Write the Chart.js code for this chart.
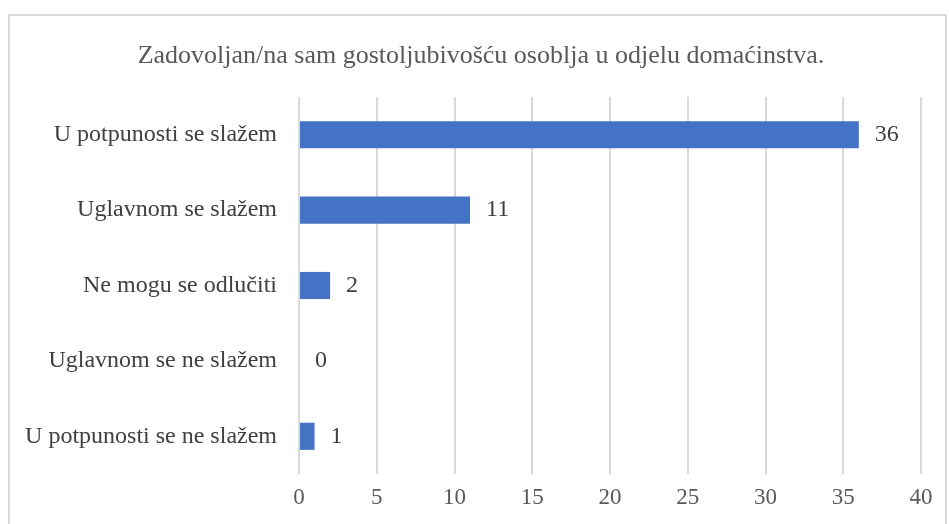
<!DOCTYPE html>
<html>
<head>
<meta charset="utf-8">
<script src="https://cdn.jsdelivr.net/npm/chart.js@4/dist/chart.umd.min.js"></script>
<style>
  html, body { margin:0; padding:0; background:#fff; width:949px; height:524px; overflow:hidden; }
  #frame { position:absolute; left:8px; top:14px; width:939px; height:530px; border:2px solid #d9d9d9; box-sizing:border-box; }
  #wrap { position:absolute; left:0; top:0; width:949px; height:524px; }
</style>
</head>
<body>
<div id="frame"></div>
<div id="wrap"><canvas id="c" width="949" height="524"></canvas></div>
<script>
const chartTitle = "Zadovoljan/na sam gostoljubivošću osoblja u odjelu domaćinstva.";
const categories = ["U potpunosti se slažem", "Uglavnom se slažem", "Ne mogu se odlučiti", "Uglavnom se ne slažem", "U potpunosti se ne slažem"];
const counts = [36, 11, 2, 0, 1];
const xTicks = [0, 5, 10, 15, 20, 25, 30, 35, 40];

const FONT = "'Liberation Serif', 'Times New Roman', serif";

const valueLabels = {
  id: 'valueLabels',
  afterDatasetsDraw(chart) {
    const ctx = chart.ctx;
    const meta = chart.getDatasetMeta(0);
    ctx.save();
    ctx.font = "24px " + FONT;
    ctx.fillStyle = "#404040";
    ctx.textAlign = "left";
    ctx.textBaseline = "middle";
    meta.data.forEach((bar, i) => {
      ctx.fillText(String(counts[i]), bar.x + 16, bar.y);
    });
    ctx.restore();
  }
};

const frameTitle = {
  id: 'frameTitle',
  afterDraw(chart) {
    const ctx = chart.ctx;
    ctx.save();
    ctx.font = "26px " + FONT;
    ctx.fillStyle = "#595959";
    ctx.textAlign = "center";
    ctx.textBaseline = "middle";
    ctx.fillText(chartTitle, 481, 56);
    ctx.restore();
  }
};

new Chart(document.getElementById('c'), {
  type: 'bar',
  data: {
    labels: categories,
    datasets: [{
      data: counts,
      backgroundColor: '#4472C4',
      borderWidth: 0,
      barPercentage: 0.36,
      categoryPercentage: 1.0
    }]
  },
  options: {
    indexAxis: 'y',
    responsive: false,
    animation: false,
    devicePixelRatio: 1,
    layout: { padding: { top: 97, right: 28, left: 0, bottom: 0 } },
    plugins: {
      legend: { display: false },
      tooltip: { enabled: false },
      title: { display: false }
    },
    scales: {
      x: {
        min: 0, max: 40,
        afterBuildTicks(scale) { scale.ticks = xTicks.map(v => ({ value: v })); },
        afterFit(scale) { scale.height = 50; },
        grid: { color: '#d9d9d9', lineWidth: 2, drawTicks: false },
        border: { display: false },
        ticks: { color: '#595959', font: { family: FONT, size: 23 }, padding: 10 }
      },
      y: {
        afterFit(scale) { scale.width = 299; },
        grid: { display: false, drawTicks: false },
        border: { display: false },
        ticks: { color: '#404040', font: { family: FONT, size: 24 }, padding: 22 }
      }
    }
  },
  plugins: [valueLabels, frameTitle]
});
</script>
</body>
</html>
